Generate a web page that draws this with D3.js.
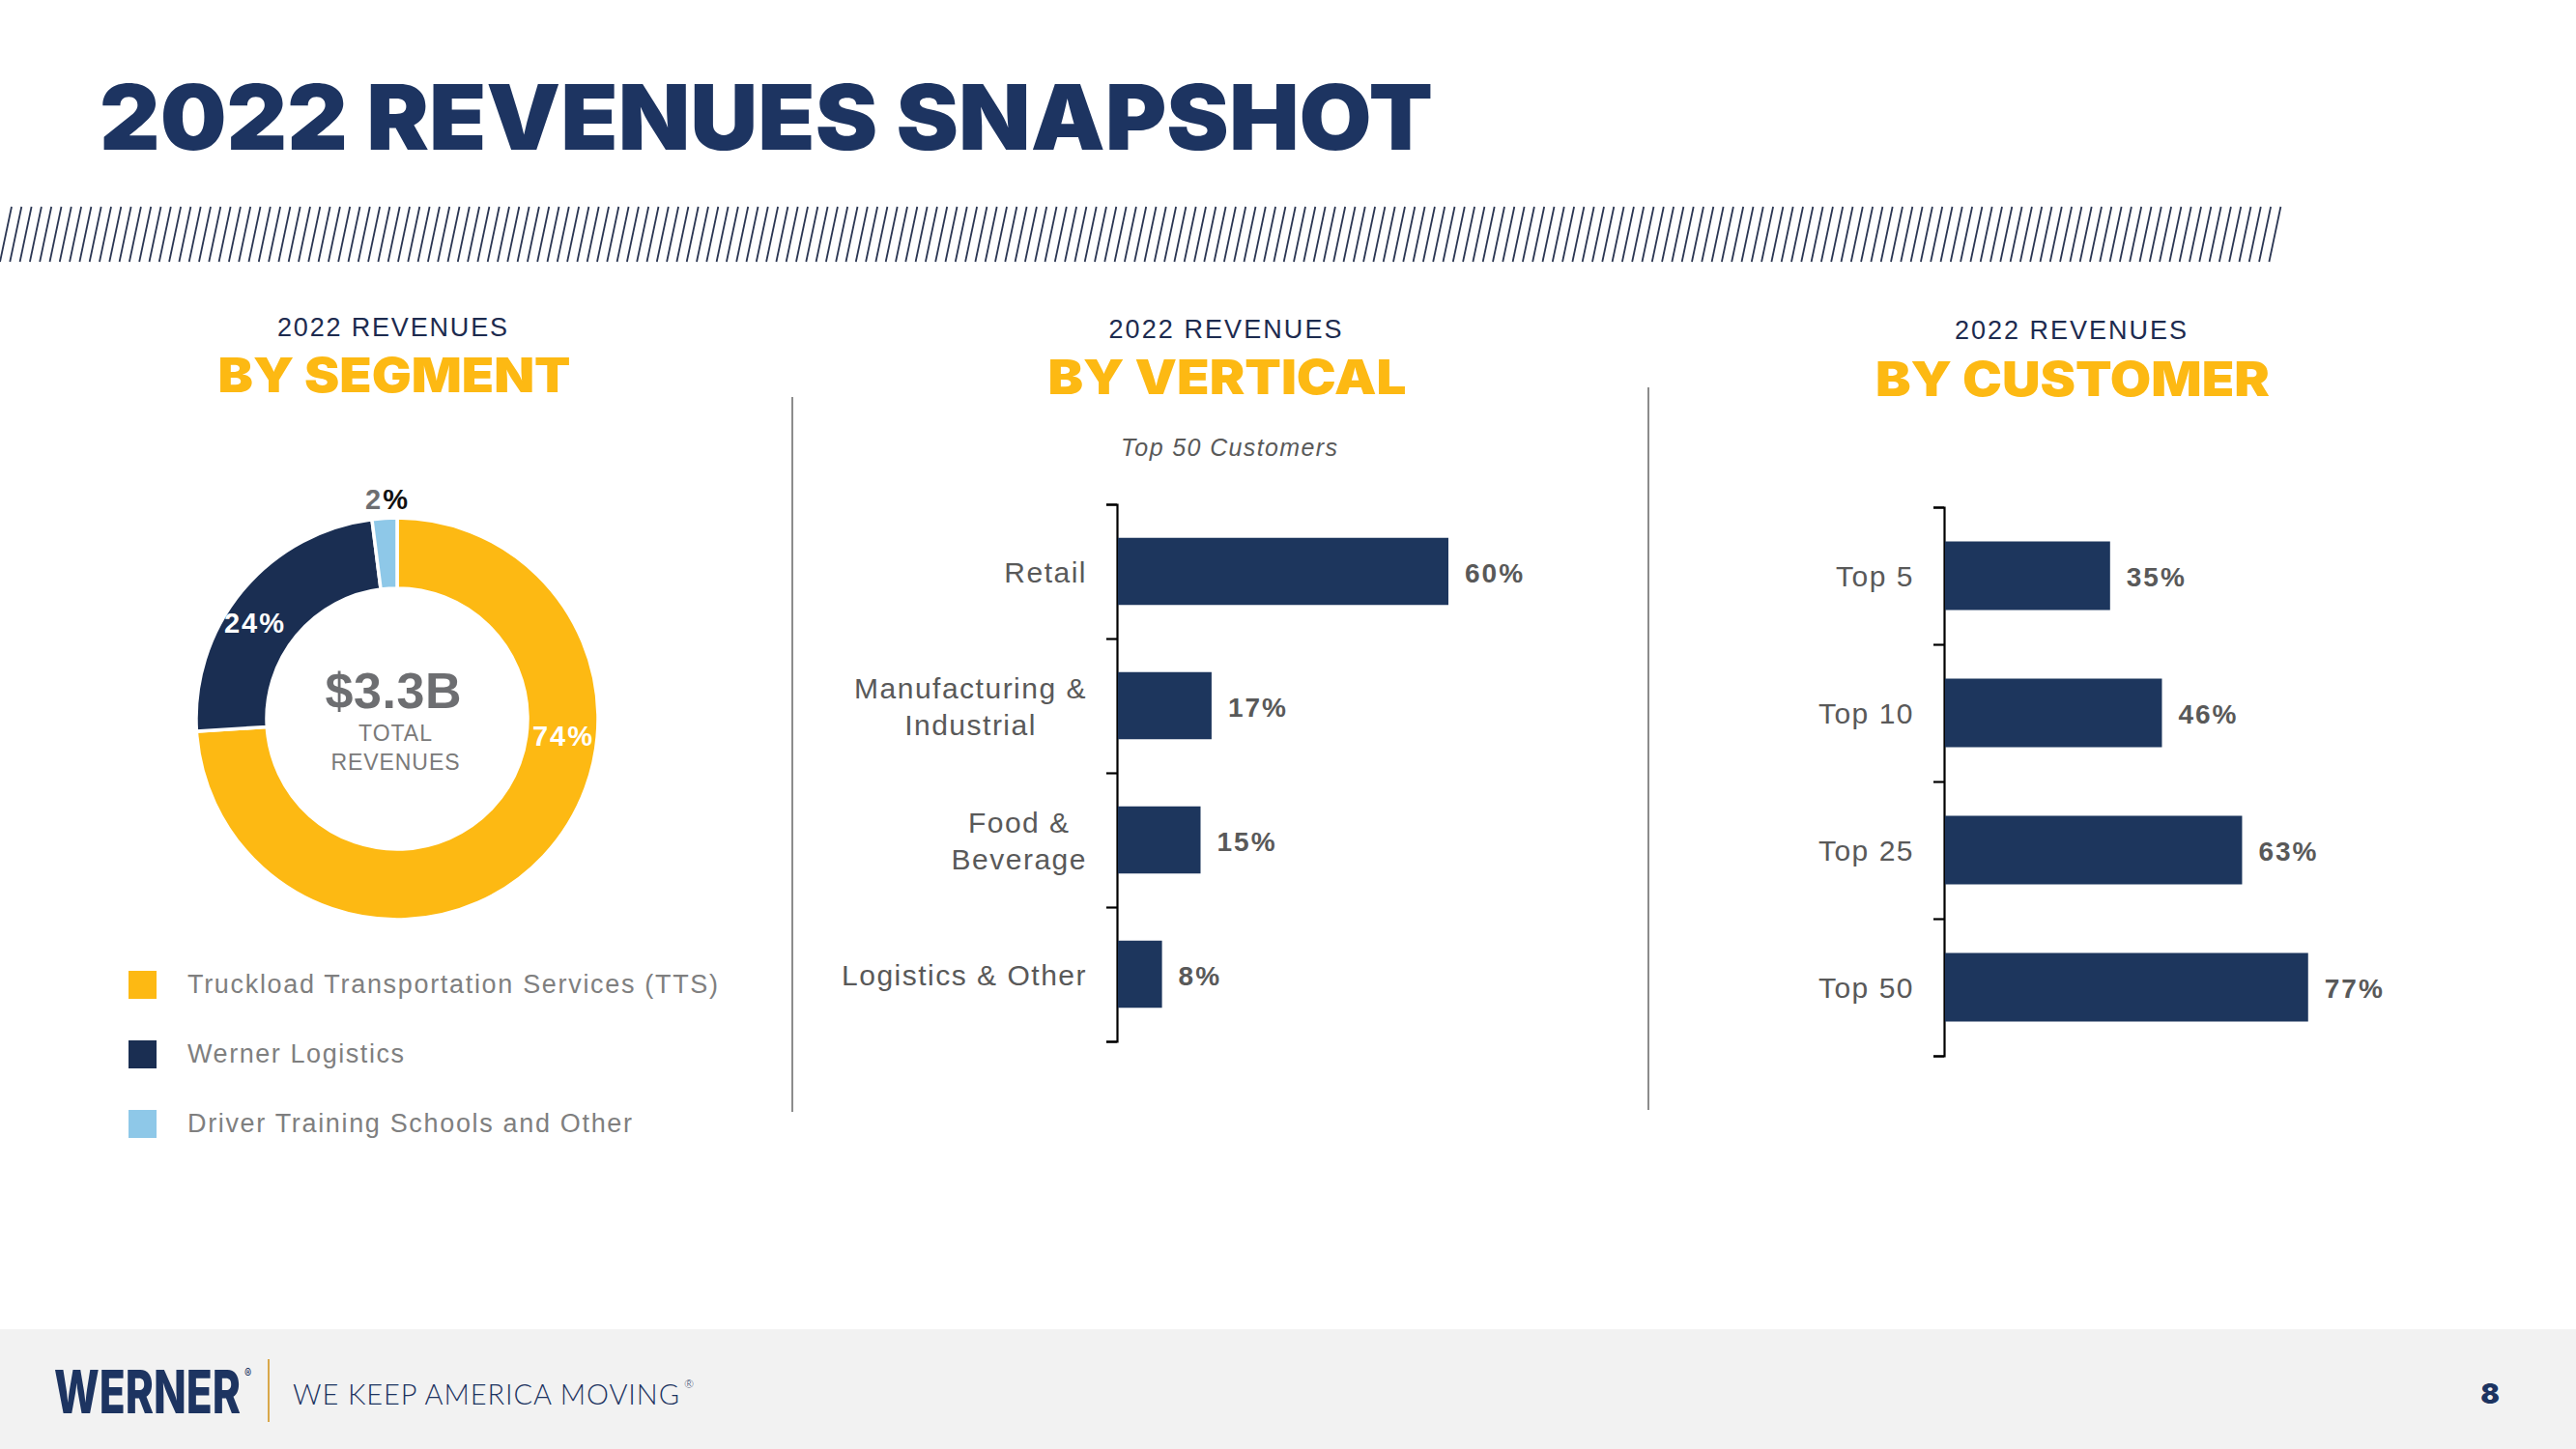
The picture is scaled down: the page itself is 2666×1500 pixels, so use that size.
<!DOCTYPE html>
<html>
<head>
<meta charset="utf-8">
<script src="https://cdn.jsdelivr.net/npm/d3@7"></script>
<style>
  html,body{margin:0;padding:0;background:#fff;}
  svg{display:block;}
</style>
</head>
<body>
<svg id="chart" width="2666" height="1500"></svg>
<script>
// ---------------- DATA ----------------
const segCategories = ["Truckload Transportation Services (TTS)", "Werner Logistics", "Driver Training Schools and Other"];
const segValues = [74, 24, 2];
const segLabels = ["74%", "24%", "2%"];
const segTotal = "$3.3B";

const verticalCategories = [["Retail"], ["Manufacturing &", "Industrial"], ["Food &", "Beverage"], ["Logistics & Other"]];
const verticalValues = [60, 17, 15, 8];

const customerCategories = ["Top 5", "Top 10", "Top 25", "Top 50"];
const customerValues = [35, 46, 63, 77];

// ---------------- STYLE ----------------
const NAVY = "#1d3461", BAR = "#1d365d", DONUT_NAVY = "#1a2e52", GOLD = "#fdb913", LIGHT = "#8ec8e8";
const GRAY = "#7f7f7f", DGRAY = "#595959", CGRAY = "#6d6e71";
const SANS = "'Liberation Sans', Arial, Helvetica, sans-serif";
const HEAVY = "Inter, Roboto, Lato, 'Liberation Sans', sans-serif";

const svg = d3.select("#chart");
svg.append("rect").attr("width", 2666).attr("height", 1500).attr("fill", "#fff");

function txt(g, o) {
  const t = g.append("text")
    .attr("x", o.width && o.anchor === "middle" ? o.x - o.width / 2 : o.x)
    .attr("y", o.y)
    .attr("font-family", o.family || SANS)
    .attr("font-size", o.size)
    .attr("font-weight", o.weight || 400)
    .attr("fill", o.fill || "#000")
    .attr("text-anchor", o.width ? "start" : (o.anchor || "start"))
    .text(o.text);
  if (o.style) t.attr("font-style", o.style);
  if (o.ls) t.attr("letter-spacing", o.ls);
  if (o.width) t.attr("textLength", o.width).attr("lengthAdjust", o.adjust || "spacing");
  return t;
}

// ---------------- TITLE ----------------
txt(svg, {x: 103, y: 155, text: "2022 REVENUES SNAPSHOT", size: 94, weight: 900, family: HEAVY, fill: NAVY, width: 1380, adjust: "spacingAndGlyphs"});

// hatch band (decorative)
const hatch = svg.append("g").attr("stroke", "#2a3552").attr("stroke-width", 1.8);
d3.range(0, 230).forEach(i => {
  const xb = i * 10.3;
  if (xb + 12 > 2366) return;
  hatch.append("line").attr("x1", xb).attr("y1", 271).attr("x2", xb + 12).attr("y2", 214);
});

// ---------------- HEADERS ----------------
const heads = [
  {cx: 406, sub: 348, main: 406, w1: 238, title: "BY SEGMENT", w2: 365},
  {cx: 1268, sub: 350, main: 408, w1: 241, title: "BY VERTICAL", w2: 371},
  {cx: 2143, sub: 351, main: 410, w1: 240, title: "BY CUSTOMER", w2: 408}
];
heads.forEach(h => {
  txt(svg, {x: h.cx, y: h.sub, text: "2022 REVENUES", size: 27, fill: "#1d2b4f", anchor: "middle", width: h.w1});
  txt(svg, {x: h.cx + 2, y: h.main, text: h.title, size: 50, weight: 900, family: HEAVY, fill: GOLD, anchor: "middle", width: h.w2, adjust: "spacingAndGlyphs"});
});
txt(svg, {x: 1272, y: 472, text: "Top 50 Customers", size: 25, style: "italic", fill: DGRAY, anchor: "middle", width: 224});

// dividers
svg.append("line").attr("x1", 820).attr("x2", 820).attr("y1", 411).attr("y2", 1151).attr("stroke", "#8c8c8c").attr("stroke-width", 2);
svg.append("line").attr("x1", 1706).attr("x2", 1706).attr("y1", 401).attr("y2", 1149).attr("stroke", "#8c8c8c").attr("stroke-width", 2);

// ---------------- DONUT ----------------
const segColors = d3.scaleOrdinal().domain(segCategories).range([GOLD, DONUT_NAVY, LIGHT]);
const pie = d3.pie().sort(null).value(d => d.v);
const arcs = pie(segValues.map((v, i) => ({v, c: segCategories[i]})));
const arc = d3.arc().innerRadius(135).outerRadius(208);
const donut = svg.append("g").attr("transform", "translate(411,744)");
donut.selectAll("path").data(arcs).join("path")
  .attr("d", arc)
  .attr("fill", d => segColors(d.data.c))
  .attr("stroke", "#fff").attr("stroke-width", 3.5);

// slice labels
const labelPos = [[172, 28], [-147, -89], [-10, -217]];
donut.selectAll("text.sl").data(segLabels.slice(0, 2)).join("text")
  .attr("class", "sl")
  .attr("x", (d, i) => labelPos[i][0]).attr("y", (d, i) => labelPos[i][1])
  .attr("text-anchor", "middle").attr("font-family", SANS).attr("font-weight", 700)
  .attr("font-size", 29).attr("letter-spacing", 2).attr("fill", "#fff").text(d => d);
const l3 = donut.append("text").attr("x", labelPos[2][0]).attr("y", labelPos[2][1])
  .attr("text-anchor", "middle").attr("font-family", SANS).attr("font-weight", 700)
  .attr("font-size", 29).attr("letter-spacing", 2);
l3.append("tspan").attr("fill", CGRAY).text(segLabels[2].slice(0, -1));
l3.append("tspan").attr("fill", "#111").text("%");

// center text
txt(svg, {x: 407, y: 733, text: segTotal, size: 52, weight: 700, fill: CGRAY, anchor: "middle", width: 141});
txt(svg, {x: 409, y: 767, text: "TOTAL", size: 23, fill: "#7a7a7a", anchor: "middle", width: 76});
txt(svg, {x: 409, y: 797, text: "REVENUES", size: 23, fill: "#7a7a7a", anchor: "middle", width: 133});

// legend
const legendY = d3.scalePoint().domain(segCategories).range([1005, 1149]);
const legendW = [549, 224, 460];
const leg = svg.append("g");
segCategories.forEach((c, i) => {
  leg.append("rect").attr("x", 133).attr("y", legendY(c)).attr("width", 29).attr("height", 29).attr("fill", segColors(c));
  txt(leg, {x: 194, y: legendY(c) + 23, text: c, size: 27, fill: GRAY, width: legendW[i]});
});

// ---------------- BAR CHART helper ----------------
function barChart(opts) {
  const g = svg.append("g");
  const y = d3.scaleBand().domain(d3.range(opts.values.length)).range(opts.yRange).paddingInner(0.5).paddingOuter(0.25);
  const x = d3.scaleLinear().domain([0, 100]).range([opts.x0, opts.x0 + opts.full]);
  // boundary ticks via index scale
  const yi = d3.scaleLinear().domain([0, opts.values.length]).range(opts.yRange);
  const axis = d3.axisLeft(yi).ticks(opts.values.length).tickSize(11).tickSizeOuter(11).tickFormat("");
  const ax = g.append("g").attr("transform", `translate(${opts.x0},0)`).call(axis);
  ax.selectAll("path,line").attr("stroke", "#000").attr("stroke-width", 2.2);

  g.selectAll("rect.bar").data(opts.values).join("rect").attr("class", "bar")
    .attr("x", x(0) + 1).attr("y", (d, i) => y(i))
    .attr("width", d => x(d) - x(0)).attr("height", y.bandwidth())
    .attr("fill", BAR);

  g.selectAll("text.val").data(opts.values).join("text").attr("class", "val")
    .attr("x", d => x(d) + 18).attr("y", (d, i) => y(i) + y.bandwidth() / 2 + 11)
    .attr("font-family", SANS).attr("font-weight", 700).attr("font-size", 28)
    .attr("letter-spacing", 2).attr("fill", DGRAY).text(d => d + "%");

  // category labels (multi-line centered block, right-aligned)
  opts.cats.forEach((lines, i) => {
    const arr = Array.isArray(lines) ? lines : [lines];
    const cy = y(i) + y.bandwidth() / 2;
    const lh = 38;
    const t = g.append("text").attr("font-family", SANS).attr("font-size", 30)
      .attr("letter-spacing", 1.5).attr("fill", DGRAY).attr("text-anchor", "middle");
    arr.forEach((s, k) => {
      t.append("tspan").attr("x", 0).attr("y", cy + 11 - (arr.length - 1) * lh / 2 + k * lh).text(s);
    });
    let maxW = 0;
    t.selectAll("tspan").each(function () { maxW = Math.max(maxW, this.getComputedTextLength()); });
    const cx = opts.x0 - opts.labelGap - maxW / 2;
    t.selectAll("tspan").attr("x", cx);
  });
}

barChart({values: verticalValues, cats: verticalCategories, x0: 1156, full: 570, yRange: [522, 1078], labelGap: 31});
barChart({values: customerValues, cats: customerCategories, x0: 2012, full: 488, yRange: [525, 1093], labelGap: 31});

// ---------------- FOOTER ----------------
svg.append("rect").attr("x", 0).attr("y", 1376).attr("width", 2666).attr("height", 124).attr("fill", "#f2f2f2");
// logo word: horizontally condensed via transform, with ® as part of the same text
const logoG = svg.append("g").attr("transform", "translate(56,1463)");
const logo = logoG.append("text").attr("x", 0).attr("y", 0)
  .attr("font-family", HEAVY).attr("font-size", 62).attr("font-weight", 800).attr("fill", NAVY);
const logoMain = logo.append("tspan").text("WERNER");
const natW = logoMain.node().getComputedTextLength();
const sx = 193 / natW;
logo.append("tspan").attr("font-size", 15).attr("font-weight", 400).attr("dx", 4 / sx).attr("dy", -36).text("®");
logoG.attr("transform", `translate(56,1463) scale(${sx},1)`);

svg.append("line").attr("x1", 278).attr("x2", 278).attr("y1", 1407).attr("y2", 1472).attr("stroke", "#d9a84a").attr("stroke-width", 2);
const tag = svg.append("text").attr("x", 303).attr("y", 1454)
  .attr("font-family", "Lato, 'Open Sans', sans-serif").attr("font-size", 29).attr("font-weight", 300).attr("fill", NAVY);
tag.append("tspan").attr("textLength", 400).attr("lengthAdjust", "spacing").text("WE KEEP AMERICA MOVING");
tag.append("tspan").attr("font-size", 12).attr("dx", 4).attr("dy", -17).text("®");
txt(svg, {x: 2577, y: 1453, text: "8", size: 29, weight: 900, family: HEAVY, fill: NAVY, anchor: "middle"});
</script>
</body>
</html>
